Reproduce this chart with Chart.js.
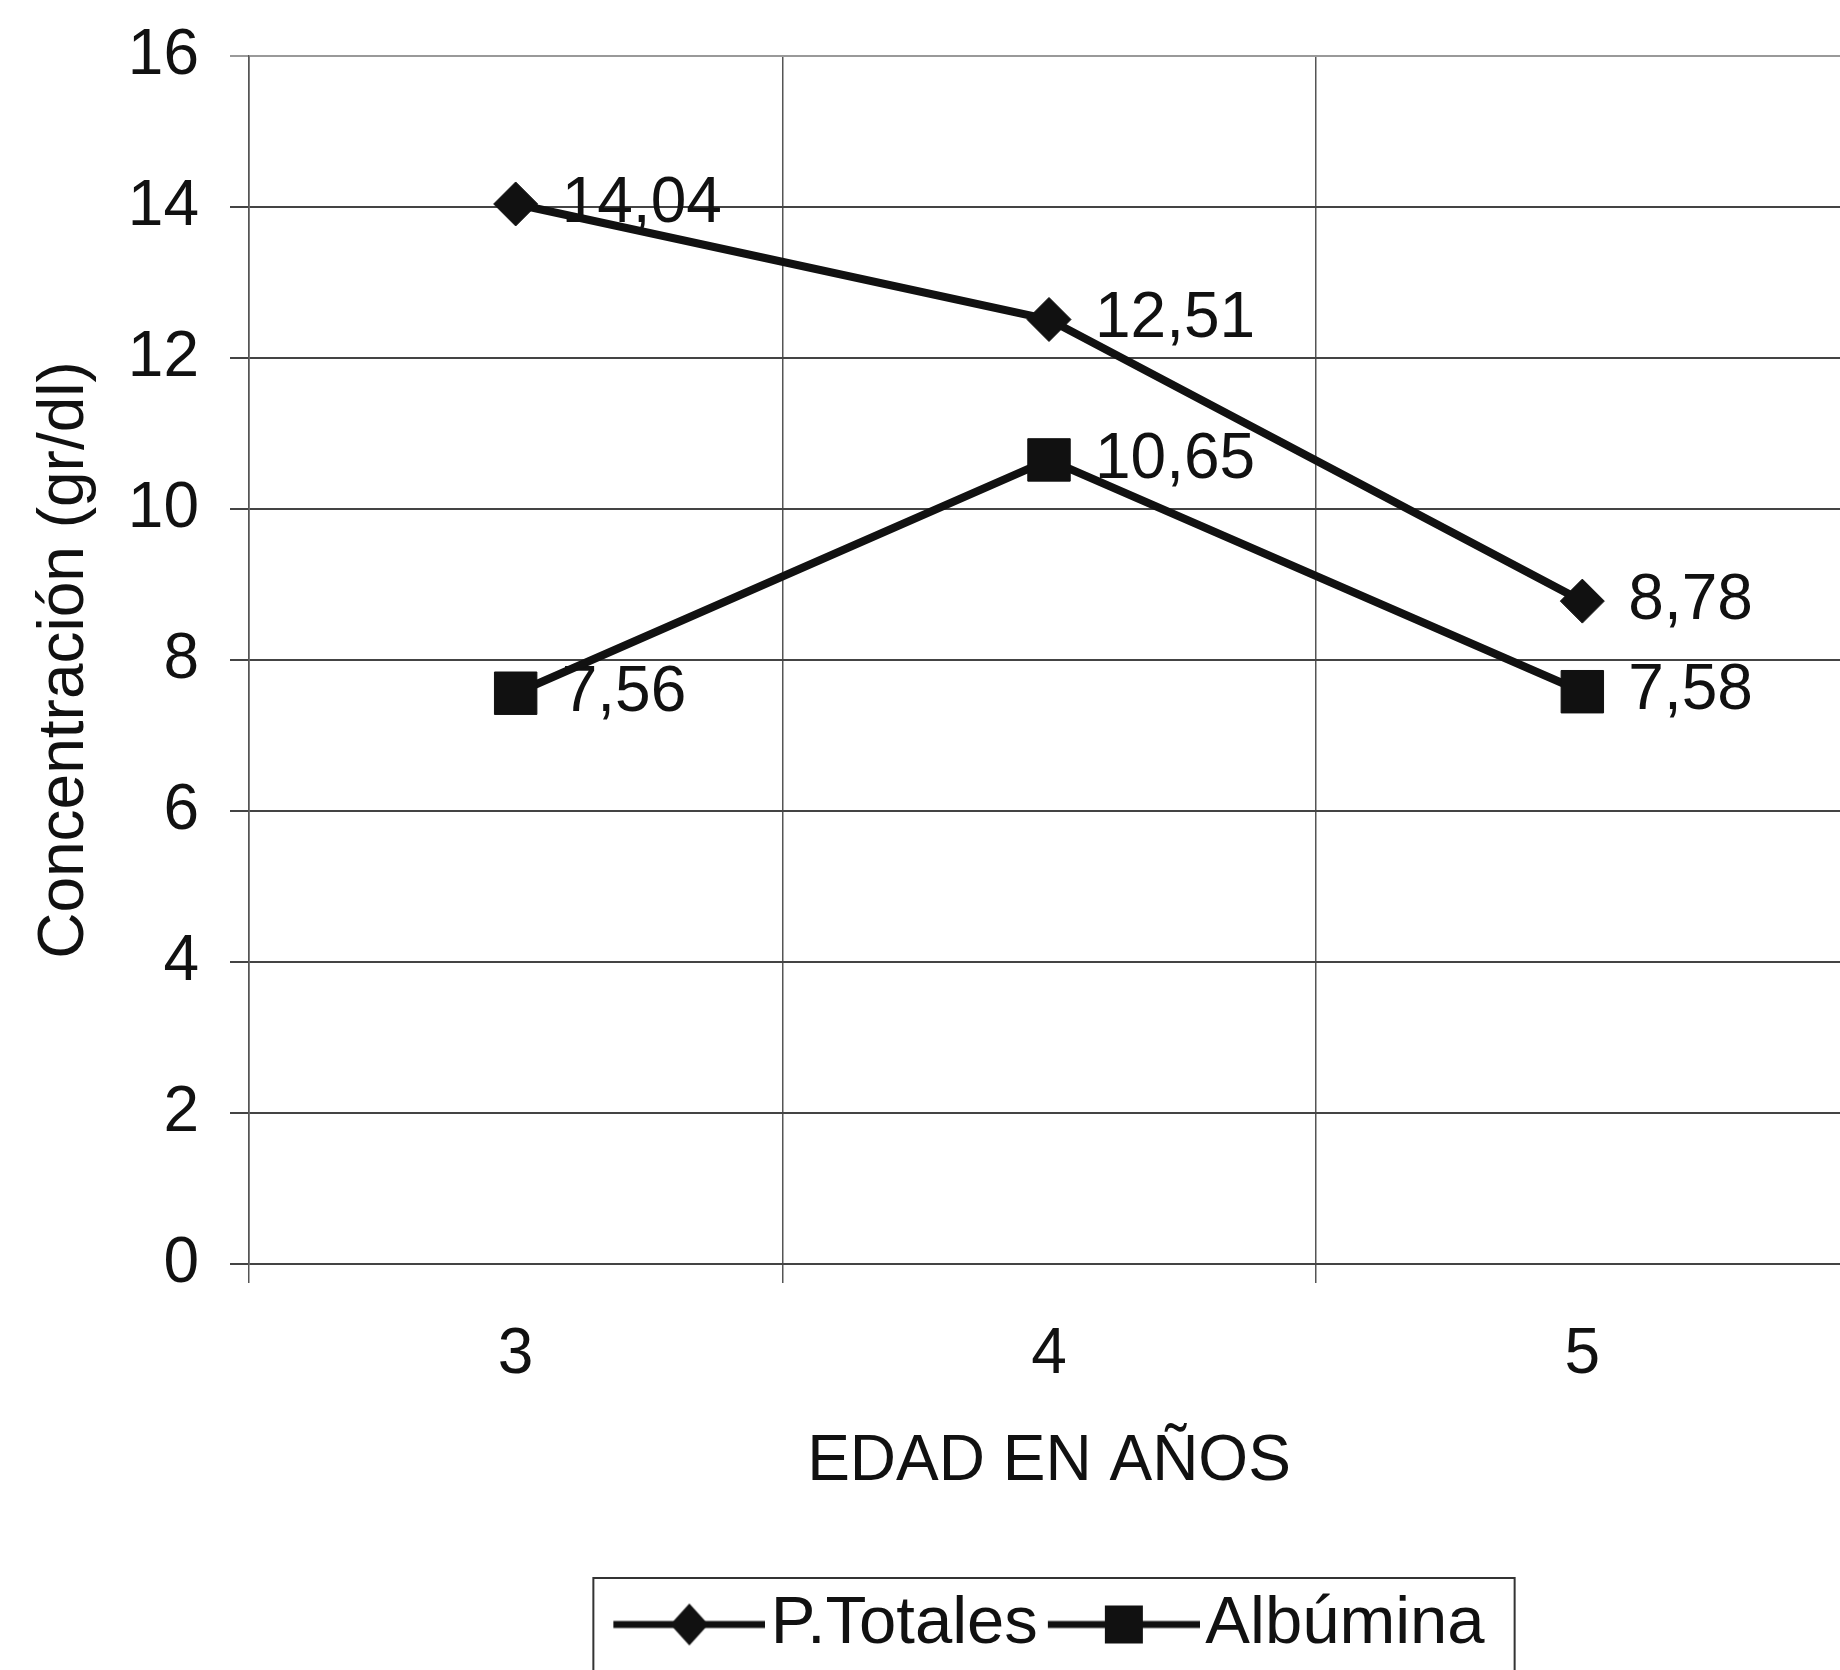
<!DOCTYPE html>
<html>
<head>
<meta charset="utf-8">
<script src="https://cdn.jsdelivr.net/npm/chart.js@4/dist/chart.umd.min.js"></script>
<style>
  html, body { margin: 0; padding: 0; background: #fff; overflow: hidden; }
  #wrap { width: 1880px; height: 1670px; }
</style>
</head>
<body>
<div id="wrap"><canvas id="myChart"></canvas></div>
<script>
// data
const edades = ['3', '4', '5'];
const pTotales = [14.04, 12.51, 8.78];
const albumina = [7.56, 10.65, 7.58];
const yMin = 0, yMax = 16, yStep = 2;

const FONT = '"Liberation Sans", Arial, sans-serif';
const FS = 64;
const LEG_FS = 67;
const INK = '#111';

// legend symbol: line - marker - line, drawn into a small canvas
const SYM_LEN = 152, SYM_BOX = 124;
function legendSymbol(shape) {
  const iw = 2 * (SYM_LEN - SYM_BOX / 2), h = 50;
  const c = document.createElement('canvas');
  c.width = iw; c.height = h;
  const g = c.getContext('2d');
  const x0 = SYM_LEN - SYM_BOX, x1 = iw, cx = (x0 + x1) / 2, cy = h / 2;
  g.strokeStyle = INK; g.fillStyle = INK; g.lineWidth = 7;
  g.beginPath(); g.moveTo(x0, cy); g.lineTo(x1, cy); g.stroke();
  g.beginPath();
  if (shape === 'diamond') {
    g.moveTo(cx, cy - 21); g.lineTo(cx + 19, cy); g.lineTo(cx, cy + 21); g.lineTo(cx - 19, cy);
  } else {
    g.rect(cx - 19, cy - 19, 38, 38);
  }
  g.closePath(); g.fill();
  return c;
}
const symbols = [legendSymbol('diamond'), legendSymbol('square')];

const valueLabels = {
  id: 'valueLabels',
  beforeDatasetsDraw(chart) {
    const ctx = chart.ctx;
    ctx.save();
    ctx.font = FS + 'px ' + FONT;
    ctx.fillStyle = INK;
    ctx.textAlign = 'left';
    ctx.textBaseline = 'middle';
    chart.data.datasets.forEach((ds, i) => {
      chart.getDatasetMeta(i).data.forEach((pt, j) => {
        ctx.fillText(ds.data[j].toFixed(2).replace('.', ','), pt.x + 46, pt.y);
      });
    });
    ctx.restore();
  }
};

const legendBox = {
  id: 'legendBox',
  afterDraw(chart) {
    const lg = chart.legend;
    const hb = lg.legendHitBoxes;
    if (!hb || !hb.length) return;
    const first = hb[0], last = hb[hb.length - 1];
    const ctx = chart.ctx;
    ctx.save();
    ctx.strokeStyle = '#333';
    ctx.lineWidth = 2;
    const l = first.left - 20, r = last.left + last.width + 30, t = lg.top - 3;
    ctx.beginPath();
    ctx.moveTo(l, chart.height + 5);
    ctx.lineTo(l, t);
    ctx.lineTo(r, t);
    ctx.lineTo(r, chart.height + 5);
    ctx.stroke();
    ctx.restore();
  }
};

const ctx = document.getElementById('myChart').getContext('2d');
new Chart(ctx, {
  type: 'line',
  data: {
    labels: edades,
    datasets: [
      {
        label: 'P.Totales',
        data: pTotales,
        borderColor: INK,
        backgroundColor: INK,
        borderWidth: 8,
        pointStyle: 'rectRot',
        pointRadius: 22,
        pointBackgroundColor: INK,
        pointBorderColor: INK,
        pointBorderWidth: 1
      },
      {
        label: 'Albúmina',
        data: albumina,
        borderColor: INK,
        backgroundColor: INK,
        borderWidth: 8,
        pointStyle: 'rect',
        pointRadius: 30,
        pointBackgroundColor: INK,
        pointBorderColor: INK,
        pointBorderWidth: 1
      }
    ]
  },
  options: {
    responsive: true,
    maintainAspectRatio: false,
    devicePixelRatio: 1,
    animation: false,
    layout: { padding: { top: 56, right: 22, bottom: 2, left: 0 } },
    plugins: {
      tooltip: { enabled: false },
      legend: {
        position: 'bottom',
        fullSize: false,
        labels: {
          usePointStyle: true,
          pointStyleWidth: SYM_BOX,
          padding: 10,
          color: INK,
          font: { family: FONT, size: LEG_FS },
          generateLabels(chart) {
            return chart.data.datasets.map((ds, i) => ({
              text: ds.label,
              pointStyle: symbols[i],
              fillStyle: INK,
              strokeStyle: INK,
              lineWidth: 0,
              fontColor: INK,
              datasetIndex: i,
              hidden: false
            }));
          }
        }
      }
    },
    scales: {
      x: {
        offset: true,
        afterFit(scale) { scale.height = 317; },
        grid: { offset: true, color: '#555', lineWidth: 1.5, tickLength: 19 },
        border: { display: false },
        ticks: { color: INK, padding: 34, font: { family: FONT, size: FS } },
        title: {
          display: true,
          text: 'EDAD EN AÑOS',
          color: INK,
          font: { family: FONT, size: FS },
          padding: { top: 0, bottom: 80 }
        }
      },
      y: {
        min: yMin,
        max: yMax,
        afterFit(scale) { scale.width = 249; },
        grid: {
          color: (c) => c.tick && c.tick.value === yMax ? '#999' : '#444',
          lineWidth: 2,
          tickLength: 19
        },
        border: { display: true, color: '#555', width: 1.5 },
        ticks: { stepSize: yStep, color: INK, padding: 31, font: { family: FONT, size: FS, lineHeight: 0.5 } },
        title: {
          display: true,
          text: 'Concentración (gr/dl)',
          color: INK,
          font: { family: FONT, size: FS },
          padding: { top: 27, bottom: 0 }
        }
      }
    }
  },
  plugins: [valueLabels, legendBox]
});
</script>
</body>
</html>
